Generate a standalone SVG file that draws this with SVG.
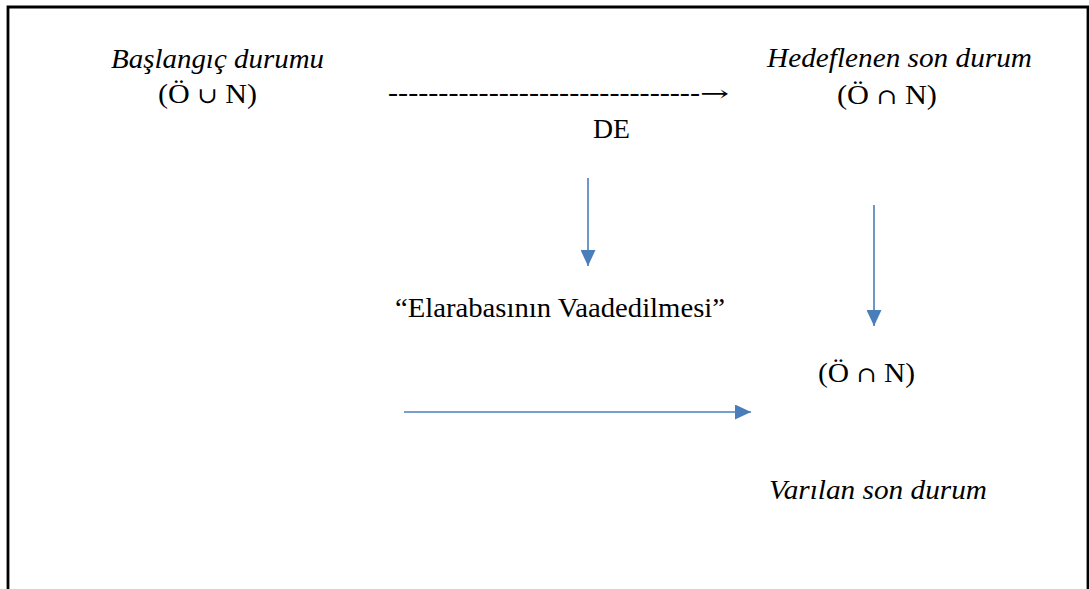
<svg xmlns="http://www.w3.org/2000/svg" width="1089" height="589" viewBox="0 0 1089 589">
  <style>
    .t { font-family: "Liberation Serif", "Times New Roman", serif; font-size: 27px; fill: #000; }
    .i { font-style: italic; }
    .op { font-family: "DejaVu Serif", serif; font-size: 22px; }
    .frame { fill: none; stroke: #000; stroke-width: 2.8; }
    .conn { stroke: #4A7EBB; stroke-width: 1.6; fill: none; }
  </style>
  <defs>
    <marker id="head" markerUnits="userSpaceOnUse" markerWidth="16" markerHeight="15" refX="16" refY="7.5" orient="auto">
      <path d="M0,0 L16,7.5 L0,15 Z" fill="#4A7EBB"/>
    </marker>
  </defs>

  <rect width="1089" height="589" fill="#fff"/>

  <!-- open-bottomed table frame -->
  <path class="frame" d="M8,589 V7 H1088 V589"/>

  <g id="start">
    <text class="t i" x="111" y="68" textLength="213" lengthAdjust="spacingAndGlyphs">Başlangıç durumu</text>
    <text class="t" x="158" y="103" textLength="99" lengthAdjust="spacingAndGlyphs">(Ö <tspan class="op">∪</tspan> N)</text>
  </g>

  <g id="target">
    <text class="t i" x="767" y="67" textLength="265" lengthAdjust="spacingAndGlyphs">Hedeflenen son durum</text>
    <text class="t" x="837" y="104" textLength="100" lengthAdjust="spacingAndGlyphs">(Ö <tspan class="op">∩</tspan> N)</text>
  </g>

  <g id="de">
    <text class="t" x="388" y="101" textLength="312" lengthAdjust="spacingAndGlyphs">-------------------------------</text>
    <text x="700" y="101" textLength="29" lengthAdjust="spacingAndGlyphs" style="font-family: 'DejaVu Serif', serif; font-size: 22px; fill: #000;">→</text>
    <text class="t" x="593" y="138" textLength="37" lengthAdjust="spacingAndGlyphs">DE</text>
  </g>

  <g id="promise">
    <text class="t" x="395" y="317" textLength="330" lengthAdjust="spacingAndGlyphs">“Elarabasının Vaadedilmesi”</text>
  </g>

  <g id="reached">
    <text class="t" x="818" y="382" textLength="97" lengthAdjust="spacingAndGlyphs">(Ö <tspan class="op">∩</tspan> N)</text>
    <text class="t i" x="769" y="499" textLength="218" lengthAdjust="spacingAndGlyphs">Varılan son durum</text>
  </g>

  <g id="connectors">
    <line class="conn" x1="588" y1="178" x2="588" y2="266" marker-end="url(#head)"/>
    <line class="conn" x1="874" y1="205" x2="874" y2="326" marker-end="url(#head)"/>
    <line class="conn" x1="404" y1="412" x2="751" y2="412" marker-end="url(#head)"/>
  </g>
</svg>
